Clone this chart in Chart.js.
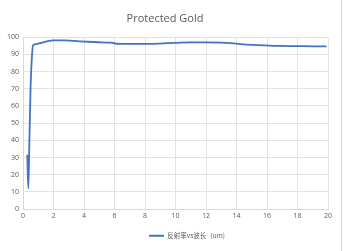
<!DOCTYPE html>
<html><head><meta charset="utf-8">
<script src="https://cdn.jsdelivr.net/npm/chart.js@4"></script>
<style>
html,body{margin:0;padding:0;background:#fff;}
#wrap{position:relative;width:344px;height:251px;}
#edge{position:absolute;left:341px;top:0;width:1px;height:251px;background:#d9d9d9;}
</style></head>
<body><div id="wrap"><canvas id="c" width="344" height="251"></canvas><div id="edge"></div></div>
<script>
const wavelength = [0.28,0.35,0.42,0.5,0.58,0.66,0.8,1.1,1.5,2.0,2.8,3.7,4.6,5.5,5.8,6.1,7.0,8.3,9.5,10.3,10.9,12.0,13.0,13.6,14.7,15.8,16.9,18.0,19.0,19.9];
const reflectance = [31.6,12,40,72,88,95.3,95.8,96.5,97.4,98.2,98.1,97.6,97.2,96.9,96.8,96.2,96.1,96.1,96.5,96.9,97.0,97.0,96.8,96.5,95.7,95.3,94.9,94.8,94.7,94.7];
const xTicks = [0,2,4,6,8,10,12,14,16,18,20];
const yTicks = [0,10,20,30,40,50,60,70,80,90,100];
const seriesName = '反射率vs波长（um)';
const titleText = 'Protected Gold';

const pts = wavelength.map((x,i)=>({x:x,y:reflectance[i]}));
const tickFont = {family:'"Open Sans", "Liberation Sans", sans-serif', size:7};
const shiftLegend = {id:'shiftLegend',afterLayout(ch){ if(ch.legend){ch.legend.left+=22;ch.legend.right+=22;} }};
new Chart(document.getElementById('c'), {
  type:'scatter',
  data:{datasets:[{label:seriesName,data:pts,showLine:true,borderColor:'#4472c4',backgroundColor:'#4472c4',borderWidth:1.8,pointRadius:0,tension:0.3,cubicInterpolationMode:'monotone'}]},
  plugins:[shiftLegend],
  options:{
    responsive:false,animation:false,
    layout:{padding:{left:2,right:16,top:4,bottom:2}},
    plugins:{
      title:{display:true,text:titleText,color:'#595959',font:{family:'"Open Sans", "Liberation Sans", sans-serif',size:11,weight:'normal'},padding:{top:8,bottom:12}},
      legend:{position:'bottom',labels:{boxWidth:15,boxHeight:0,color:'#595959',font:{family:'"Noto Sans CJK SC", sans-serif',size:6.5},padding:9,generateLabels:(ch)=>[{text:seriesName,strokeStyle:'#4472c4',fillStyle:'#4472c4',lineWidth:2,fontColor:'#595959'}]}},
      tooltip:{enabled:false}
    },
    scales:{
      x:{type:'linear',min:0,max:20,afterBuildTicks:(a)=>{a.ticks=xTicks.map(v=>({value:v}));},
        ticks:{color:'#595959',font:tickFont,maxRotation:0,padding:3},
        grid:{color:'#e3e3e3',drawTicks:false},border:{color:'#d9d9d9'}},
      y:{min:0,max:100,afterBuildTicks:(a)=>{a.ticks=yTicks.map(v=>({value:v}));},
        ticks:{color:'#595959',font:tickFont,padding:4},
        afterFit:(s)=>{s.width=21;},
        grid:{color:'#e3e3e3',drawTicks:false},border:{color:'#d9d9d9'}}
    }
  }
});
</script></body></html>
